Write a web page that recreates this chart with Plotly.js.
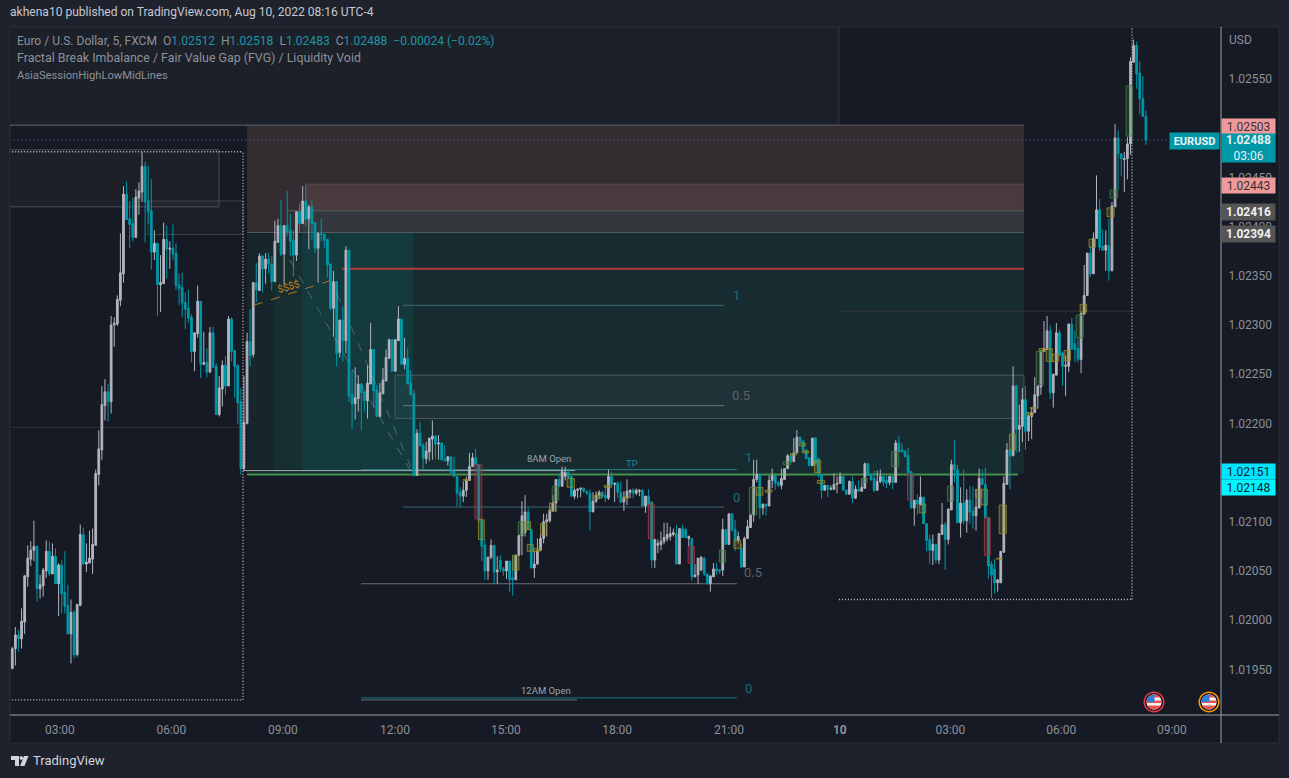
<!DOCTYPE html>
<html><head><meta charset="utf-8">
<script src="https://cdn.plot.ly/plotly-3.0.1.min.js"></script>
<style>html,body{margin:0;padding:0;background:#1e222d;overflow:hidden}#c{width:1289px;height:778px}</style>
</head><body><div id="c"></div>
<script>
// Prices are stored as (price - 1) * 100000, e.g. 2550 = 1.02550
const opens=[
1951,1971,1985,1981,1998,2044,2062,2071,2075,2032,
2035,2050,2070,2047,2065,2037,2056,2028,2015,1986,
2008,1965,2015,2087,2057,2058,2062,2076,2148,2173,
2218,2232,2222,2300,2301,2325,2352,2433,2408,2403,
2389,2429,2435,2461,2426,2416,2374,2383,2341,2342,
2387,2377,2378,2373,2341,2338,2323,2317,2308,2273,
2291,2324,2260,2262,2252,2292,2258,2209,2235,2259,
2238,2306,2274,2259,2222,2154,2200,2283,2270,2343,
2335,2370,2357,2367,2362,2344,2384,2401,2372,2401,
2396,2386,2371,2415,2403,2426,2408,2420,2404,2378,
2393,2392,2387,2362,2317,2344,2272,2305,2284,2376,
2229,2220,2225,2240,2232,2223,2240,2275,2234,2207,
2230,2243,2266,2285,2253,2284,2306,2260,2266,2241,
2230,2147,2190,2178,2164,2171,2184,2187,2179,2180,
2163,2162,2166,2151,2146,2130,2126,2132,2142,2156,
2165,2158,2102,2076,2050,2064,2076,2049,2061,2052,
2050,2060,2043,2041,2066,2086,2089,2110,2092,2053,
2057,2071,2083,2100,2101,2111,2119,2143,2136,2146,
2150,2146,2126,2132,2133,2134,2131,2129,2110,2121,
2127,2130,2127,2124,2146,2138,2139,2130,2120,2125,
2130,2132,2129,2131,2132,2116,2126,2120,2061,2076,
2077,2080,2083,2085,2087,2088,2057,2093,2092,2083,
2083,2044,2046,2051,2063,2047,2037,2044,2052,2051,
2051,2092,2077,2108,2092,2081,2073,2054,2083,2094,
2107,2143,2148,2114,2118,2116,2142,2147,2140,2137,
2143,2154,2167,2161,2170,2186,2182,2173,2165,2157,
2185,2164,2148,2132,2137,2133,2133,2138,2139,2146,
2132,2128,2141,2124,2133,2131,2134,2159,2148,2144,
2132,2141,2146,2142,2140,2146,2140,2180,2173,2172,
2167,2151,2114,2122,2117,2125,2098,2082,2071,2077,
2061,2087,2097,2082,2112,2158,2153,2099,2119,2101,
2122,2111,2106,2114,2144,2138,2104,2057,2052,2038,
2038,2069,2138,2173,2167,2238,2194,2197,2224,2192,
2207,2211,2228,2237,2273,2275,2294,2231,2249,2292,
2271,2258,2258,2301,2281,2276,2265,2311,2330,2373,
2352,2388,2417,2380,2376,2381,2355,2420,2490,2474,
2468,2469,2484,2567,2584,2556,2530,2512];
const highs=[
1973,1993,1990,2012,2046,2076,2080,2101,2075,2046,
2053,2081,2080,2078,2073,2058,2061,2070,2036,2021,
2010,2016,2097,2094,2078,2091,2093,2153,2193,2238,
2245,2240,2309,2308,2330,2393,2441,2446,2426,2429,
2438,2445,2476,2466,2462,2448,2396,2383,2371,2404,
2401,2385,2402,2383,2352,2353,2333,2336,2311,2292,
2340,2324,2293,2276,2298,2298,2261,2248,2264,2268,
2309,2308,2274,2260,2236,2248,2292,2316,2343,2363,
2373,2371,2373,2373,2370,2406,2408,2427,2401,2436,
2413,2396,2415,2424,2441,2442,2422,2427,2404,2394,
2408,2393,2387,2362,2355,2344,2305,2319,2380,2376,
2254,2257,2249,2241,2232,2259,2302,2275,2239,2241,
2256,2275,2286,2286,2285,2319,2306,2287,2276,2254,
2234,2194,2201,2180,2181,2185,2203,2188,2188,2181,
2178,2167,2166,2166,2146,2135,2141,2146,2170,2170,
2174,2158,2102,2082,2064,2082,2076,2065,2066,2054,
2060,2060,2066,2066,2086,2121,2127,2114,2092,2071,
2083,2087,2108,2108,2114,2127,2143,2149,2156,2156,
2154,2146,2134,2134,2135,2135,2132,2133,2130,2131,
2132,2131,2136,2153,2151,2140,2141,2141,2131,2143,
2133,2134,2134,2133,2133,2126,2133,2121,2082,2082,
2090,2099,2099,2095,2093,2097,2093,2097,2094,2086,
2083,2057,2063,2065,2064,2047,2045,2058,2058,2052,
2103,2092,2108,2108,2102,2090,2078,2085,2102,2108,
2163,2163,2148,2118,2118,2147,2154,2147,2141,2154,
2154,2169,2169,2185,2193,2186,2183,2173,2165,2185,
2186,2165,2148,2137,2137,2137,2149,2146,2150,2146,
2133,2142,2146,2137,2142,2144,2160,2160,2148,2152,
2152,2153,2149,2147,2147,2147,2183,2187,2180,2172,
2175,2151,2122,2128,2146,2125,2098,2087,2087,2077,
2088,2119,2100,2113,2163,2183,2158,2135,2153,2133,
2136,2136,2133,2154,2153,2155,2104,2060,2062,2041,
2070,2146,2180,2173,2258,2239,2219,2236,2238,2210,
2216,2247,2238,2273,2304,2309,2300,2250,2302,2295,
2273,2269,2301,2307,2294,2286,2312,2361,2373,2380,
2394,2452,2428,2397,2396,2408,2425,2504,2498,2474,
2476,2491,2572,2590,2588,2568,2553,2518];
const lows=[
1950,1954,1968,1971,1986,2034,2055,2060,2019,2022,
2024,2043,2045,2047,2037,2004,2007,2007,1986,1956,
1961,1963,2014,2057,2049,2058,2047,2076,2137,2163,
2203,2202,2210,2278,2299,2319,2343,2407,2378,2385,
2389,2412,2425,2384,2403,2356,2366,2309,2313,2342,
2347,2357,2366,2335,2320,2308,2296,2302,2262,2253,
2287,2246,2259,2247,2252,2257,2209,2207,2217,2229,
2238,2263,2226,2199,2148,2152,2199,2258,2267,2323,
2335,2333,2342,2352,2335,2344,2384,2370,2341,2390,
2370,2349,2365,2395,2403,2400,2377,2386,2373,2343,
2385,2378,2348,2315,2288,2258,2267,2263,2271,2222,
2194,2204,2212,2193,2212,2205,2240,2216,2207,2207,
2230,2243,2266,2253,2253,2284,2260,2255,2240,2229,
2146,2147,2177,2153,2159,2162,2163,2164,2163,2163,
2162,2157,2150,2146,2116,2115,2120,2125,2142,2156,
2158,2100,2060,2041,2041,2062,2037,2037,2049,2045,
2042,2029,2025,2041,2065,2066,2085,2092,2053,2043,
2056,2071,2078,2085,2099,2110,2110,2136,2136,2142,
2145,2126,2123,2124,2125,2129,2127,2091,2110,2119,
2123,2124,2120,2122,2138,2120,2124,2119,2111,2117,
2124,2124,2127,2126,2116,2109,2117,2053,2053,2068,
2071,2077,2080,2081,2085,2057,2057,2084,2084,2075,
2040,2044,2037,2050,2045,2036,2029,2044,2046,2047,
2045,2077,2077,2091,2070,2078,2053,2054,2083,2094,
2100,2140,2103,2107,2106,2116,2134,2132,2135,2133,
2143,2154,2161,2161,2170,2181,2171,2164,2157,2157,
2158,2145,2123,2132,2125,2132,2132,2129,2139,2132,
2127,2128,2119,2123,2131,2131,2134,2147,2141,2130,
2132,2139,2136,2134,2137,2133,2140,2171,2171,2166,
2150,2114,2096,2107,2117,2098,2070,2057,2056,2058,
2057,2087,2051,2077,2112,2140,2099,2084,2097,2089,
2098,2093,2091,2114,2137,2104,2042,2022,2027,2029,
2038,2069,2138,2133,2167,2170,2171,2181,2173,2182,
2184,2211,2215,2229,2273,2275,2225,2216,2249,2269,
2238,2228,2252,2275,2262,2262,2251,2311,2330,2349,
2352,2388,2375,2376,2355,2345,2355,2420,2437,2451,
2435,2448,2473,2567,2540,2514,2512,2483];
const closes=[
1971,1985,1981,1999,2045,2063,2071,2075,2032,2036,
2051,2070,2047,2065,2037,2056,2027,2014,1986,2008,
1965,2016,2087,2057,2059,2063,2077,2149,2174,2219,
2232,2222,2300,2302,2326,2353,2433,2407,2402,2389,
2430,2436,2461,2425,2415,2374,2383,2341,2343,2387,
2377,2378,2372,2340,2337,2322,2316,2307,2273,2292,
2324,2260,2262,2252,2292,2257,2209,2236,2259,2238,
2306,2273,2258,2221,2154,2201,2283,2269,2343,2336,
2370,2357,2367,2362,2344,2385,2401,2372,2401,2395,
2385,2371,2415,2403,2426,2407,2420,2403,2378,2393,
2392,2386,2361,2317,2344,2271,2305,2284,2376,2228,
2220,2226,2240,2231,2223,2241,2275,2233,2207,2231,
2244,2267,2285,2253,2285,2306,2260,2266,2240,2229,
2147,2190,2177,2164,2172,2185,2187,2179,2180,2163,
2162,2166,2150,2146,2129,2126,2132,2142,2156,2165,
2158,2102,2075,2050,2064,2076,2049,2051,2052,2050,
2060,2041,2041,2066,2086,2106,2110,2092,2053,2057,
2071,2083,2100,2102,2112,2119,2143,2136,2151,2150,
2145,2126,2132,2133,2134,2131,2129,2110,2121,2127,
2130,2126,2124,2146,2138,2139,2130,2120,2125,2131,
2132,2129,2132,2132,2116,2126,2117,2061,2082,2078,
2080,2084,2087,2088,2089,2057,2093,2084,2084,2085,
2044,2046,2063,2064,2047,2037,2045,2052,2050,2050,
2092,2077,2108,2091,2081,2085,2054,2083,2095,2107,
2143,2148,2114,2118,2116,2142,2147,2139,2137,2144,
2154,2167,2161,2170,2186,2181,2173,2164,2157,2185,
2158,2148,2132,2137,2133,2134,2138,2139,2146,2132,
2128,2141,2124,2133,2131,2135,2159,2147,2143,2132,
2141,2146,2140,2139,2146,2140,2180,2171,2171,2166,
2150,2114,2122,2118,2125,2098,2081,2071,2077,2061,
2088,2097,2082,2113,2158,2153,2099,2119,2101,2122,
2110,2106,2115,2144,2138,2104,2055,2046,2038,2041,
2070,2139,2173,2167,2238,2194,2198,2224,2192,2207,
2211,2229,2238,2273,2276,2294,2231,2250,2292,2269,
2258,2259,2301,2275,2275,2265,2312,2330,2373,2352,
2388,2417,2379,2376,2381,2355,2421,2490,2474,2469,
2469,2484,2568,2584,2555,2530,2512,2488];

const timeLabels=["03:00","06:00","09:00","12:00","15:00","18:00","21:00","<b>10</b>","03:00","06:00","09:00"];
const timeBars=[15.4,51.5,87.6,123.9,159.8,195.8,232,267.9,303.7,339.6,375.4];
const priceTicks=[1.0195,1.02,1.0205,1.021,1.0215,1.022,1.0225,1.023,1.0235,1.024,1.0245,1.025,1.0255];

// Fair-value-gap markers: [first bar, last bar, top, bottom, kind]
const gaps=[
[146,148,2143,2142,'y'],[149.8,152,2158,2103,'r'],[150.9,152.8,2102,2082,'y'],[162,164,2066,2051,'y'],
[163.8,165.8,2100,2087,'g'],[165.8,167.8,2100,2092,'y'],[166.7,168.7,2077,2070,'y'],[168.7,171,2073,2070,'y'],
[171,173,2098,2087,'y'],[173.9,175.9,2119,2111,'y'],[174.8,176.9,2136,2122,'g'],[179.6,182,2144,2135,'y'],
[188.6,190.8,2127,2124,'y'],[191.7,194,2137,2135,'y'],[197.7,199.6,2125,2124,'y'],[205.9,207.8,2118,2083,'r'],
[218.8,220.8,2075,2058,'r'],[228.9,230.9,2071,2059,'g'],[233.6,235.8,2081,2073,'y'],[238.6,241,2135,2107,'g'],
[240.8,243,2135,2127,'y'],[243.8,246,2132,2130,'y'],[249.6,252,2161,2158,'g'],[251.8,254,2169,2168,'y'],
[254.8,256.7,2180,2177,'y'],[255.7,257.8,2172,2170,'y'],[259.7,261.7,2162,2150,'y'],[260.6,263,2142,2139,'y'],
[274.9,276.8,2144,2140,'g'],[284.6,287,2171,2156,'g'],[289.8,291.7,2148,2122,'r'],[293.6,295.7,2118,2109,'y'],
[302.7,304.7,2136,2121,'g'],[311.8,313.8,2133,2125,'y'],[313.7,315.7,2133,2117,'y'],[314.7,316.6,2104,2066,'r'],
[318.6,320.5,2063,2062,'y'],[319.5,321.8,2117,2088,'y'],[322.8,324.7,2189,2173,'y'],[328.5,330.5,2211,2208,'y'],
[329.5,331.5,2216,2215,'y'],[331.5,333.8,2273,2239,'g'],[332.4,334.6,2276,2274,'y'],[334.7,336.7,2276,2263,'y'],
[336.6,338.8,2270,2263,'y'],[340.5,342.6,2274,2264,'y'],[344.4,346.7,2310,2287,'g'],[345.7,347.8,2321,2313,'y'],
[348.6,350.7,2387,2379,'y'],[354.4,356.7,2419,2410,'y'],[355.4,357.8,2437,2429,'g'],[360.6,362.6,2543,2492,'g']];

// Zones: [first bar, last bar, top, bottom, fill, line]
const zones=[
[-1,267.6,2603,2503,'#1c2029','#33363d'],
[76,327.5,2503,2394,'#332d31','rgba(0,0,0,0)'],
[94.8,327.5,2443,2394,'#4a3a3e','rgba(0,0,0,0)'],
[93.8,327.5,2416,2394,'#33383c','rgba(0,0,0,0)'],
[76,327.5,2394,2149,'#172c31','rgba(0,0,0,0)'],
[76,84.7,2394,2151,'#17262b','rgba(0,0,0,0)'],
[84.7,93.8,2394,2151,'#172f30','rgba(0,0,0,0)'],
[93.8,129.7,2394,2151,'#143a3e','rgba(0,0,0,0)'],
[-1,66.9,2478,2420,'#1d2029','#4a4d54'],
[43.9,74.7,2426,2392,'rgba(255,255,255,0.02)','#3f4249'],
[123.9,327.5,2249,2205,'rgba(255,255,255,0.03)','#4f585c']];

// Horizontal levels: [first bar, last bar, price, colour, width, dash]
const dots='1px,2px', fine='1px,3px';
const levels=[
[-1,327.5,2503,'#5a5d65',1,'solid'],[94.8,327.5,2443,'#5b4a4e',1,'solid'],[76,327.5,2394,'#565c60',1,'solid'],
[89,327.5,2416,'#565c60',1,'solid'],[106.7,327.5,2357,'#b23c3c',2,'solid'],
[126.5,230.4,2320,'#3f6e73',1,'solid'],[126.5,230.4,2218,'#6f7579',1,'solid'],[126.5,230.4,2115,'#3b6a70',1,'solid'],
[-1,74.7,2196,'#2f323a',1,'solid'],[267.6,362.5,2314,'#33363d',1,'solid'],
[74.7,182.2,2152,'#a3a9b0',1,'solid'],[112.9,234.6,2153,'#2b7b85',1,'solid'],[76,325.6,2148,'#43914a',2,'solid'],
[112.9,234.6,2037,'#6b6e73',1,'solid'],[112.9,234.6,1921,'#14767f',1,'solid'],[112.9,182.8,1919,'#6b6e73',1,'solid'],
[-1,74.7,2476,'#c5c7cc',1.3,dots],[-1,74.7,1919,'#c5c7cc',1.3,dots],[267.6,362.5,2021,'#c5c7cc',1.3,dots],
[-1,374.5,2488,'#1d8f9c',1,fine]];
const verticals=[[74.7,1919,2476],[362.5,2021,2603]];
// Sloped drawings: [bar a, price a, bar b, price b, colour]
const slopes=[[78.2,2320,102.9,2345,'#b07a20'],[89.9,2366,128.7,2153,'rgba(150,160,165,0.45)'],[105.1,2332,129.4,2153,'rgba(150,160,165,0.45)']];
// Text on the chart: [bar, price, text, colour, size]
const notes=[
[173.7,2164,'8AM Open','#9fa3aa',9.5],[200.6,2159,'TP','#1f8a96',9.5],[172.8,1928,'12AM Open','#9fa3aa',9.5],
[234.3,2330,'1','#1b6f78',13],[235.9,2228,'0.5','#5f6268',13],[234.3,2125,'0','#1b6f78',13],
[238.2,2165,'1','#1b6f78',13],[239.8,2048,'0.5','#5f6268',13],[238.2,1931,'0','#1b6f78',13]];
// Price-scale tags: [text, fill, text colour, top, height]
const tags=[
['1.02503','#ef9a9a','#3a2f30',118,15],['<b>1.02488</b><br>03:06','#0097a7','#e8eef0',133,28],
['1.02443','#ef9a9a','#3a2f30',177,15],['<b>1.02416</b>','#555555','#f0f0f0',203,16],
['<b>1.02394</b>','#555555','#f0f0f0',225,16],['1.02151','#00e5ff','#10222a',463,15],['1.02148','#00f5ff','#10222a',479,15]];

const P=v=>1+v/100000, L=10,R=1221,T=27,B=715;
const px=x=>(x-L)/(R-L), py=y=>1-(y-T)/(B-T);
const bars=opens.map((_,i)=>i);
const up='#b2b5be', down='#0097a7';
const trace={type:'candlestick',x:bars,open:opens.map(P),high:highs.map(P),low:lows.map(P),close:closes.map(P),
 increasing:{line:{color:up,width:1},fillcolor:up},decreasing:{line:{color:down,width:1},fillcolor:down},
 whiskerwidth:0,hoverinfo:'skip',showlegend:false};

const shapes=[];
const paperRect=(x0,y0,x1,y1,fill,line,layer)=>shapes.push({type:'rect',xref:'paper',yref:'paper',x0:px(x0),x1:px(x1),y0:py(y0),y1:py(y1),fillcolor:fill,line:{color:line||'rgba(0,0,0,0)',width:line?1:0},layer:layer||'below'});
paperRect(10,27,1279,743,'#161a25','#2a2e39');
zones.forEach(z=>shapes.push({type:'rect',xref:'x',yref:'y',x0:z[0],x1:z[1],y0:P(z[3]),y1:P(z[2]),fillcolor:z[4],line:{color:z[5],width:1},layer:'below'}));
levels.forEach(l=>shapes.push({type:'line',xref:'x',yref:'y',x0:l[0],x1:l[1],y0:P(l[2]),y1:P(l[2]),line:{color:l[3],width:l[4],dash:l[5]},layer:'below'}));
verticals.forEach(v=>shapes.push({type:'line',xref:'x',yref:'y',x0:v[0],x1:v[0],y0:P(v[1]),y1:P(v[2]),line:{color:'#c5c7cc',width:1.3,dash:dots},layer:'above'}));
slopes.forEach(s=>shapes.push({type:'line',xref:'x',yref:'y',x0:s[0],x1:s[2],y0:P(s[1]),y1:P(s[3]),line:{color:s[4],width:1,dash:'dash'},layer:'above'}));
const kinds={y:['rgba(150,140,40,0.28)','rgba(150,143,40,0.8)'],g:['rgba(60,120,60,0.28)','rgba(65,130,70,0.8)'],r:['rgba(170,50,60,0.3)','rgba(165,55,62,0.85)']};
gaps.forEach(g=>shapes.push({type:'rect',xref:'x',yref:'y',x0:g[0],x1:g[1],y0:P(g[3]),y1:P(g[2]),fillcolor:kinds[g[4]][0],line:{color:kinds[g[4]][1],width:1},layer:'above'}));
// axis lines
const ax='#9a9ea8';
shapes.push({type:'line',xref:'paper',yref:'paper',x0:px(10),x1:px(1279),y0:py(715),y1:py(715),line:{color:ax,width:1},layer:'above'});
shapes.push({type:'line',xref:'paper',yref:'paper',x0:px(1221),x1:px(1221),y0:py(27),y1:py(743),line:{color:ax,width:1},layer:'above'});
// news flags
function poly(pts,fill){shapes.push({type:'path',xref:'paper',yref:'paper',layer:'above',fillcolor:fill,line:{width:0,color:'rgba(0,0,0,0)'},
 path:'M'+pts.map(p=>px(p[0])+','+py(p[1])).join('L')+'Z'});}
function circlePts(cx,cy,r){const o=[];for(let a=0;a<36;a++){o.push([cx+r*Math.cos(a*Math.PI/18),cy+r*Math.sin(a*Math.PI/18)]);}return o;}
function band(cx,cy,r,y0,y1,xmax,fill){const o=[];const hw=y=>Math.sqrt(Math.max(0,r*r-(y-cy)*(y-cy)));
 const lim=x=>xmax===undefined?x:Math.min(x,xmax);const n=6;
 for(let i=0;i<=n;i++){const y=y0+(y1-y0)*i/n;o.push([lim(cx+hw(y)),y]);}
 for(let i=n;i>=0;i--){const y=y0+(y1-y0)*i/n;o.push([cx-hw(y),y]);}poly(o,fill);}
function flag(cx,cy,ring){poly(circlePts(cx,cy,10.5),ring);poly(circlePts(cx,cy,9),'#161a25');poly(circlePts(cx,cy,7.5),'#f4f4f4');
 band(cx,cy,7.5,cy-7.4,cy-4.5,undefined,'#ef5350');band(cx,cy,7.5,cy-1.5,cy+1,undefined,'#ef5350');band(cx,cy,7.5,cy+3.5,cy+7.4,undefined,'#ef5350');
 band(cx,cy,7.5,cy-7.4,cy,cx+0.5,'#2f7fd8');}
flag(1154,702,'#f23645');flag(1209,702,'#ff9800');
// logo
poly([[11,756],[19,756],[19,766],[15,766],[15,760],[11,760]],'#d1d4dc');
poly(circlePts(21.3,758,1.8),'#d1d4dc');
poly([[24,756],[28.5,756],[24.5,766],[20,766]],'#d1d4dc');

const annotations=[];
const pText=(x,y,text,size,color,opt)=>annotations.push(Object.assign({xref:'paper',yref:'paper',x:px(x),y:py(y),text,showarrow:false,xanchor:'left',yanchor:'middle',align:'left',font:{family:'Roboto, sans-serif',size,color}},opt||{}));
pText(8,12,'akhena10 published on TradingView.com, Aug 10, 2022 08:16 UTC-4',12.05,'#c5c8d0');
const tv='#1d97a5';
pText(15,41,'Euro / U.S. Dollar, 5, FXCM  O<span style="color:'+tv+'">1.02512</span>  H<span style="color:'+tv+'">1.02518</span>  L<span style="color:'+tv+'">1.02483</span>  C<span style="color:'+tv+'">1.02488</span>  <span style="color:'+tv+'">−0.00024 (−0.02%)</span>',12.05,'#8d9099');
pText(15,58,'Fractal Break Imbalance / Fair Value Gap (FVG) / Liquidity Void',12.4,'#8d9099');
pText(15,75,'AsiaSessionHighLowMidLines',11.2,'#8d9099');
pText(1227,40,'USD',12,'#8d9099');
pText(31,760,'TradingView',13,'#d1d4dc');
notes.forEach(n=>annotations.push({xref:'x',yref:'y',x:n[0],y:P(n[1]),text:n[2],showarrow:false,xanchor:'center',yanchor:'middle',font:{family:'Roboto, sans-serif',size:n[4],color:n[3]}}));
annotations.push({xref:'x',yref:'y',x:89.3,y:P(2340),text:'$$$$',textangle:-17,showarrow:false,font:{family:'Roboto, sans-serif',size:10,color:'#c8871c'}});
tags.forEach(t=>annotations.push({xref:'paper',yref:'paper',x:px(1221),y:py(t[3]),xanchor:'left',yanchor:'top',width:53,height:t[4],text:t[0],showarrow:false,align:'center',valign:'middle',bgcolor:t[1],borderpad:0,font:{family:'Roboto, sans-serif',size:12,color:t[2]}}));
annotations.push({xref:'paper',yref:'paper',x:px(1169),y:py(132),xanchor:'left',yanchor:'top',width:49,height:16,text:'<b>EURUSD</b>',showarrow:false,bgcolor:'#0097a7',borderpad:0,font:{family:'Roboto, sans-serif',size:11,color:'#eef4f5'}});

const layout={width:1289,height:778,margin:{l:10,r:68,t:27,b:63,pad:0},paper_bgcolor:'#1e222d',plot_bgcolor:'rgba(0,0,0,0)',
 showlegend:false,hovermode:false,boxgap:0.2,
 font:{family:'Roboto, sans-serif',size:12,color:'#8d9099'},
 xaxis:{type:'linear',range:[-0.74,391.3],rangeslider:{visible:false},showgrid:false,zeroline:false,showline:false,tickmode:'array',tickvals:timeBars,ticktext:timeLabels,ticks:'outside',ticklen:4,tickcolor:'rgba(0,0,0,0)',tickfont:{family:'Roboto, sans-serif',size:12,color:'#8d9099'}},
 yaxis:{side:'right',range:[P(1903.6),P(2602.8)],showgrid:false,zeroline:false,showline:false,tickmode:'array',tickvals:priceTicks,ticktext:priceTicks.map(v=>v.toFixed(5)),ticks:'outside',ticklen:4,tickcolor:'rgba(0,0,0,0)',tickfont:{family:'Roboto, sans-serif',size:12,color:'#8d9099'}},
 shapes,annotations};
Plotly.newPlot('c',[trace],layout,{displayModeBar:false,staticPlot:true});
</script></body></html>
